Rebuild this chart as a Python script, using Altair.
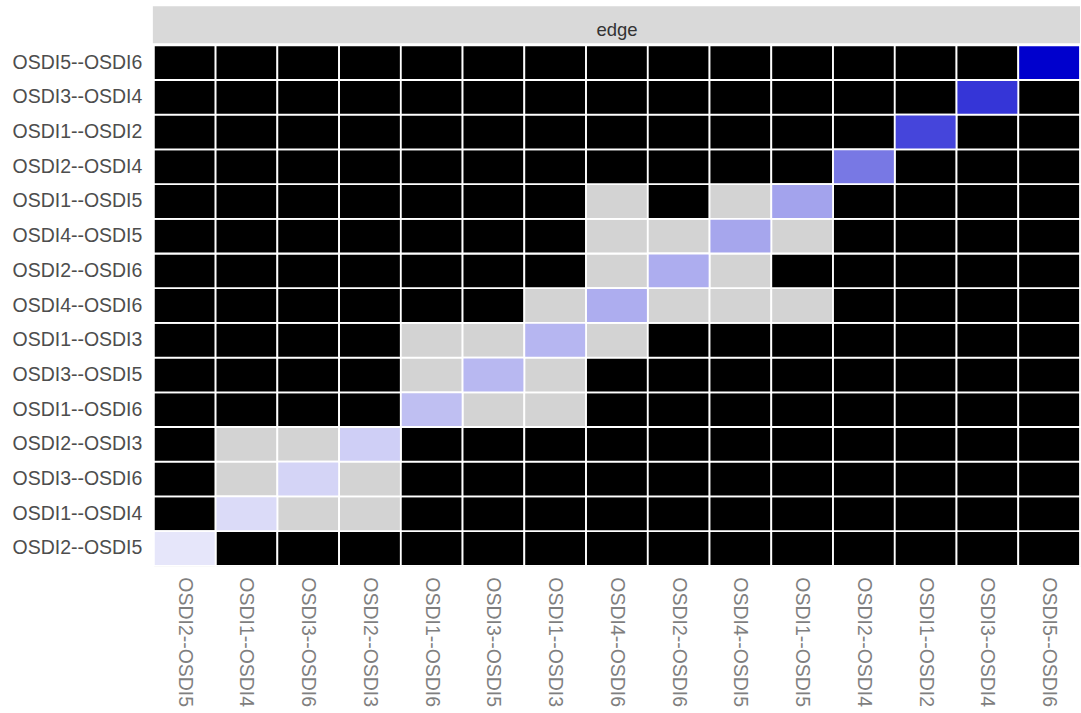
import altair as alt
import pandas as pd

# Edge order along both axes (x left-to-right, y bottom-to-top)
edges = [
    "OSDI2--OSDI5", "OSDI1--OSDI4", "OSDI3--OSDI6", "OSDI2--OSDI3",
    "OSDI1--OSDI6", "OSDI3--OSDI5", "OSDI1--OSDI3", "OSDI4--OSDI6",
    "OSDI2--OSDI6", "OSDI4--OSDI5", "OSDI1--OSDI5", "OSDI2--OSDI4",
    "OSDI1--OSDI2", "OSDI3--OSDI4", "OSDI5--OSDI6",
]

# Intensity of each edge on the diagonal (0 = lavender, 1 = deep blue)
diag_values = [0.0, 0.05, 0.08, 0.10, 0.17, 0.20, 0.21, 0.25,
               0.25, 0.28, 0.29, 0.48, 0.70, 0.77, 1.0]

# Pairs of edges (by index) that are linked; drawn in both directions
linked_pairs = [
    (1, 2), (1, 3), (2, 3),
    (4, 5), (4, 6), (5, 6), (6, 7),
    (7, 8), (7, 9), (7, 10), (8, 9), (9, 10),
]

linked = set()
for a, b in linked_pairs:
    linked.add((a, b))
    linked.add((b, a))

off_rows = []
diag_rows = []
for i, row_edge in enumerate(edges):
    for j, col_edge in enumerate(edges):
        if i == j:
            diag_rows.append({"x": col_edge, "y": row_edge, "value": diag_values[i]})
        else:
            off_rows.append({
                "x": col_edge, "y": row_edge,
                "link": "linked" if (i, j) in linked else "none",
            })

off_df = pd.DataFrame(off_rows)
diag_df = pd.DataFrame(diag_rows)

W, H = 927, 521
LABEL_SIZE = 19.5

x_enc = alt.X(
    "x:N", sort=edges, title=None,
    axis=alt.Axis(labelAngle=90, labelAlign="left", labelBaseline="middle",
                  labelPadding=11, ticks=False, domain=False,
                  labelColor="#7f7f7f", labelFont="Liberation Sans",
                  labelFontSize=LABEL_SIZE, labelLimit=300),
)
y_enc = alt.Y(
    "y:N", sort=list(reversed(edges)), title=None,
    axis=alt.Axis(ticks=False, domain=False, labelPadding=12,
                  labelColor="#4d4d4d", labelFont="Liberation Sans",
                  labelFontSize=LABEL_SIZE, labelLimit=300),
)

cells = alt.Chart(off_df).mark_rect(stroke="white", strokeWidth=1.8).encode(
    x=x_enc, y=y_enc,
    color=alt.Color("link:N", scale=alt.Scale(domain=["none", "linked"],
                                              range=["#000000", "#d3d3d3"]),
                    legend=None),
)

diag = alt.Chart(diag_df).mark_rect(stroke="white", strokeWidth=1.8).encode(
    x=alt.X("x:N", sort=edges),
    y=alt.Y("y:N", sort=list(reversed(edges))),
    color=alt.Color("value:Q", scale=alt.Scale(domain=[0, 1],
                                               range=["#e6e6fa", "#0000cd"],
                                               interpolate="rgb"),
                    legend=None),
)

# Strip header across the top of the panel
strip = alt.Chart(pd.DataFrame({"label": ["edge"]})).mark_rect(
    color="#d9d9d9", clip=False
).encode(
    x=alt.value(-1), x2=alt.value(W), y=alt.value(-39), y2=alt.value(-2),
)
strip_text = alt.Chart(pd.DataFrame({"label": ["edge"]})).mark_text(
    font="Liberation Sans", fontSize=18.5, color="#333333", baseline="middle"
).encode(
    text="label:N", x=alt.value(W / 2), y=alt.value(-15),
)

chart = alt.layer(cells, diag, strip, strip_text).resolve_scale(
    color="independent"
).properties(
    width=W, height=H,
    padding={"left": 11, "top": 6, "right": 0, "bottom": 0},
).configure_view(stroke=None).configure(background="white")

chart.save("out.html", embed_options={"renderer": "svg", "actions": False})
